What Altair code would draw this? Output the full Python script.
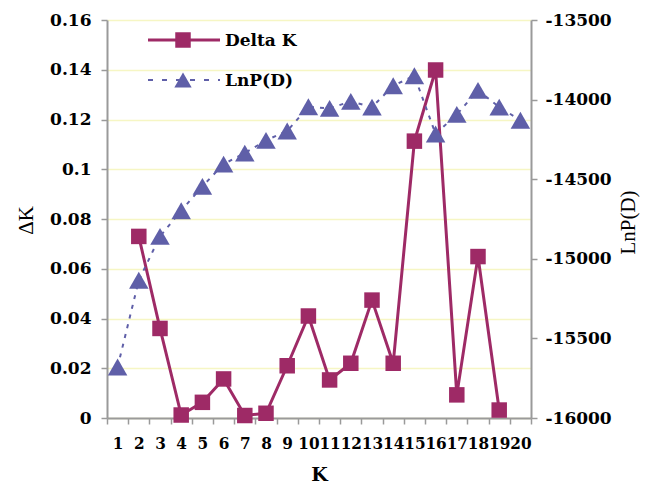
import altair as alt
import pandas as pd

k_all = list(range(1, 21))
k_delta = list(range(2, 20))
delta_k = [0.073, 0.036, 0.0012, 0.0063, 0.0157, 0.001, 0.0019, 0.021, 0.041,
           0.0153, 0.022, 0.0474, 0.022, 0.1113, 0.1399, 0.0093, 0.0649, 0.0032]
lnp = [-15680, -15135, -14859, -14698, -14545, -14405, -14336, -14256, -14197, -14045,
       -14055, -14011, -14047, -13913, -13850, -14216, -14093, -13942, -14047, -14130]

dk_df = pd.DataFrame({"K": k_delta, "DeltaK": delta_k})
lnp_df = pd.DataFrame({"K": k_all, "LnP": lnp})

RED = "#9e2a66"
BLUE = "#5f5fa8"
BFONT = "DejaVu Serif"
CFONT = "DejaVu Serif Condensed"
RFONT = "Liberation Serif"
GRID = "#f6f6c4"
AXC = "#9a9a9a"

xenc = alt.X("K:O", scale=alt.Scale(domain=k_all, paddingInner=0, paddingOuter=0),
             axis=alt.Axis(title="K", labelAngle=0, tickBand="extent", tickSize=6,
                           labelPadding=11, labelFontSize=17, labelFontWeight="bold",
                           labelFont=CFONT, titleFont=BFONT, titleFontSize=19,
                           titleFontWeight="bold", titleY=62, titleBaseline="alphabetic",
                           domainColor=AXC, domainWidth=2, tickColor=AXC, tickWidth=1.5,
                           grid=False))

dk = alt.Chart(dk_df).mark_line(
    color=RED, strokeWidth=3,
    point=alt.OverlayMarkDef(shape="square", size=240, filled=True, color=RED, opacity=1)
).encode(
    x=xenc,
    y=alt.Y("DeltaK:Q", scale=alt.Scale(domain=[0, 0.16], nice=False),
            axis=alt.Axis(title="ΔK", values=[0, 0.02, 0.04, 0.06, 0.08, 0.1, 0.12, 0.14, 0.16],
                          format="~g", labelFontSize=17, labelFontWeight="bold",
                          labelFont=BFONT, titleFont=RFONT, titleFontSize=21,
                          titleFontWeight="normal", titleX=-81, titleY=200,
                          titleAngle=270, titleAlign="center", titleBaseline="middle",
                          tickSize=6, labelPadding=10, domainColor=AXC, domainWidth=2,
                          tickColor=AXC, tickWidth=1.5, grid=True, gridColor=GRID,
                          gridWidth=1.5))
)

lp = alt.Chart(lnp_df).mark_line(
    color=BLUE, strokeWidth=2, strokeDash=[4, 6],
    point=alt.OverlayMarkDef(shape="triangle-up", size=380, filled=True, color=BLUE, opacity=1)
).encode(
    x=alt.X("K:O", scale=alt.Scale(domain=k_all, paddingInner=0, paddingOuter=0)),
    y=alt.Y("LnP:Q", scale=alt.Scale(domain=[-16000, -13500], nice=False),
            axis=alt.Axis(title="LnP(D)", orient="right",
                          values=[-16000, -15500, -15000, -14500, -14000, -13500],
                          labelExpr="'' + datum.value", labelFontSize=17,
                          labelFontWeight="bold", labelFont=BFONT, titleFont=RFONT,
                          titleFontSize=21, titleFontWeight="normal", titleX=97,
                          titleY=202, titleAngle=270, titleAlign="center",
                          titleBaseline="middle", tickSize=6, labelPadding=8,
                          domainColor=AXC, domainWidth=2, tickColor=AXC, tickWidth=1.5,
                          grid=False))
)

one = pd.DataFrame({"a": [0]})
leg_line1 = alt.Chart(one).mark_rule(color=RED, strokeWidth=3).encode(
    x=alt.value(41), x2=alt.value(113), y=alt.value(20))
leg_pt1 = alt.Chart(one).mark_point(shape="square", size=240, filled=True, color=RED, opacity=1).encode(
    x=alt.value(76), y=alt.value(20))
leg_txt1 = alt.Chart(one).mark_text(align="left", baseline="middle", font=BFONT, fontSize=17,
                                    fontWeight="bold", color="black").encode(
    x=alt.value(118), y=alt.value(21), text=alt.value("Delta K"))
leg_line2 = alt.Chart(one).mark_rule(color=BLUE, strokeWidth=2, strokeDash=[5, 9]).encode(
    x=alt.value(41), x2=alt.value(113), y=alt.value(60))
leg_pt2 = alt.Chart(one).mark_point(shape="triangle-up", size=300, filled=True, color=BLUE, opacity=1).encode(
    x=alt.value(76), y=alt.value(60))
leg_txt2 = alt.Chart(one).mark_text(align="left", baseline="middle", font=BFONT, fontSize=17,
                                    fontWeight="bold", color="black").encode(
    x=alt.value(118), y=alt.value(61), text=alt.value("LnP(D)"))

chart = alt.layer(
    dk, lp, leg_line1, leg_pt1, leg_txt1, leg_line2, leg_pt2, leg_txt2
).resolve_scale(y="independent").properties(
    width=424, height=398,
    autosize=alt.AutoSizeParams(type="none"),
    padding={"left": 99, "top": 12, "right": 109, "bottom": 67},
    background="white",
).configure_view(stroke=None)

chart.save("out.html", embed_options={"renderer": "svg", "actions": False})
